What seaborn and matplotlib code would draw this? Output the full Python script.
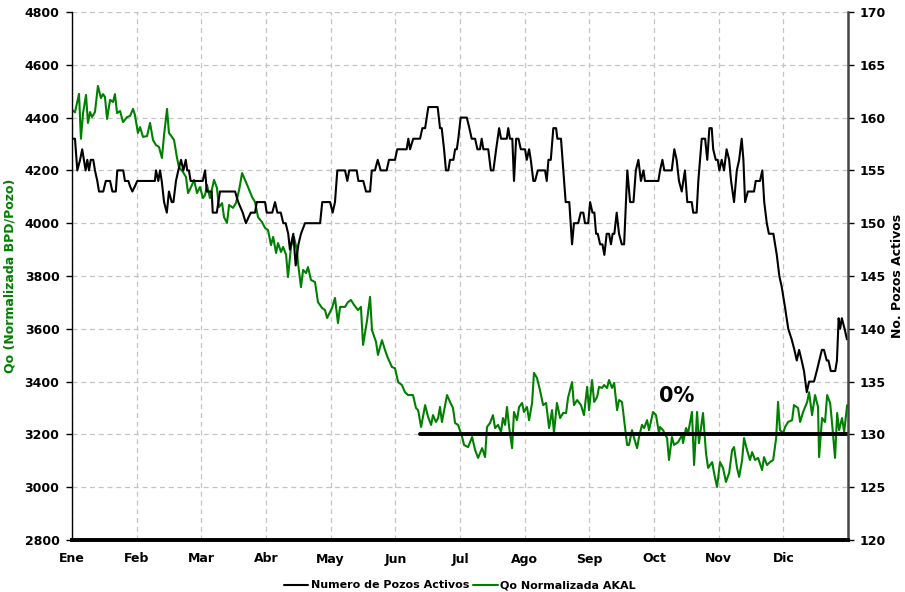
import numpy as np
import pandas as pd
import matplotlib
matplotlib.use("Agg")
import matplotlib.pyplot as plt
import seaborn as sns

months = ["Ene", "Feb", "Mar", "Abr", "May", "Jun", "Jul", "Ago", "Sep", "Oct", "Nov", "Dic"]

green_day = [0, 1.4, 3.3, 4.2, 5.2, 6.6, 7.5, 8.5, 9.4, 10.8, 12.2, 13.6, 14.6, 15.5, 16.5, 17.9, 19.3, 20.2, 21.2, 22.6,
             24.0, 25.9, 27.3, 28.7, 29.6, 31.0, 32.0, 33.4, 35.3, 36.7, 38.1, 39.5, 40.9, 42.3, 43.3, 44.7, 45.6, 47.0, 48.0,
             49.4, 50.3, 52.2, 53.6, 54.6, 56.0, 57.4, 58.8, 60.2, 61.6, 62.6, 63.5, 64.9, 66.8, 68.2, 69.1, 70.6, 71.5, 72.9,
             73.9, 75.7, 77.1, 78.6, 80.0, 81.4, 82.8, 84.7, 86.1, 87.5, 89.4, 90.8,
             92.2, 93.6, 94.6, 96.0, 96.9, 98.3, 99.3, 100.7, 101.6, 103.0, 104.4, 105.8, 106.3, 107.7, 108.7, 110.1, 111.0,
             112.4, 114.3, 115.7, 117.6, 119.0, 120.0, 122.3, 123.7, 125.1, 126.1, 128.4, 129.8, 131.2, 132.7, 134.5, 135.9,
             136.9, 138.8, 140.2, 141.1, 143.0, 143.9, 145.8, 147.2, 148.6, 150.5, 151.9, 153.4, 155.2, 156.6, 158.1, 160.4,
             161.8, 162.8, 164.2, 166.1, 167.5, 168.9, 169.8, 171.2, 172.2, 173.1, 174.0, 176.4, 177.8, 179.2, 180.2, 181.6, 183.5,
             184.4, 186.3, 188.2, 189.6, 191.0, 192.9, 194.3, 195.2, 196.6, 198.0, 199.0, 200.4, 201.8, 202.7, 203.7, 204.6,
             205.6, 207.0, 207.9, 209.3, 210.3, 211.7, 212.6, 214.0, 215.0, 216.4, 217.3, 218.7, 220.1, 221.6, 223.0, 224.4,
             225.8, 226.7, 228.1, 229.6, 231.0, 232.4, 233.3, 235.2, 236.1, 237.6, 239.4, 240.8, 242.3, 243.2, 244.6, 245.6,
             247.0, 247.9, 249.3, 250.3, 251.7, 252.6, 254.0, 255.0, 256.4, 257.3, 258.7, 259.7, 261.1, 262.0, 263.4, 264.4,
             265.8, 266.7, 268.1, 269.1, 270.5, 271.4, 273.3, 274.7, 276.1,
             276.6, 278.0, 279.9, 280.8, 282.2, 283.2, 285.1, 287.0, 287.4, 288.8, 289.8, 291.6, 292.6, 294.0, 294.9, 296.8,
             298.2, 299.2, 301.1, 302.0, 303.4, 304.8, 306.2, 307.6, 309.1, 310.5, 311.4, 312.8, 313.8, 315.2, 316.1, 317.5,
             318.9, 319.9, 321.3, 322.7, 324.6, 325.5, 326.9, 328.3, 329.8, 331.2, 332.1, 333.0, 334.5, 335.4, 336.8, 338.7,
             339.6, 341.5, 342.5, 343.9, 345.8, 346.7, 348.1, 349.5, 350.9, 351.4, 352.8, 354.2, 355.2, 356.6, 357.5, 358.9,
             359.9, 360.8, 362.2, 363.2, 364.6]

green_qo = [4430, 4420, 4490, 4320, 4417, 4486, 4380, 4421, 4402, 4421, 4520, 4474, 4489, 4478, 4395, 4467, 4459, 4489, 4417, 4425,
            4383, 4402, 4406, 4433, 4410, 4342, 4364, 4327, 4330, 4380, 4315, 4296, 4289, 4247, 4334, 4433, 4342, 4327, 4315,
            4247, 4213, 4194, 4175, 4114, 4137, 4164, 4114, 4137, 4095, 4107, 4145, 4095, 4164, 4133, 4061, 4076, 4023, 4001,
            4069, 4058, 4076, 4126, 4190, 4164, 4137, 4099, 4080, 4023, 4004, 3982,
            3974, 3917, 3948, 3887, 3925, 3891, 3910, 3880, 3796, 3910, 3948, 3898, 3849, 3758, 3823, 3811, 3834,
            3785, 3777, 3701, 3679, 3671, 3641, 3679, 3717, 3622, 3683, 3683, 3701, 3709, 3690, 3671, 3683,
            3539, 3633, 3721, 3595, 3550, 3501, 3557, 3520, 3489, 3455, 3451, 3398, 3387, 3360, 3349, 3349,
            3300, 3292, 3228, 3311, 3266, 3236, 3273, 3247, 3262, 3304, 3247, 3349, 3323, 3300, 3243, 3236, 3190,
            3160, 3152, 3190, 3141, 3111, 3148, 3114, 3228, 3243, 3273, 3224, 3236, 3209, 3262, 3236, 3304,
            3228, 3148, 3285, 3254, 3304, 3319, 3285, 3304, 3254, 3319, 3433, 3414, 3368, 3311, 3319, 3224,
            3292, 3205, 3319, 3262, 3281, 3281, 3338, 3398, 3311, 3330, 3311, 3273, 3380, 3292, 3406, 3323,
            3342, 3380, 3376, 3387, 3376, 3406, 3376, 3395, 3292, 3330, 3323, 3254, 3160, 3160, 3216, 3186,
            3148, 3190, 3236, 3224, 3254, 3216, 3285, 3273, 3205,
            3228, 3216, 3186, 3103, 3190, 3160, 3171, 3198, 3167, 3224, 3205, 3285, 3084, 3285, 3167, 3281,
            3130, 3073, 3095, 3054, 3001, 3095, 3073, 3020, 3054, 3141, 3152, 3073, 3039, 3103, 3186, 3141,
            3103, 3133, 3103, 3111, 3065, 3114, 3084, 3095, 3103, 3186, 3323, 3216, 3205, 3228, 3247, 3254,
            3311, 3300, 3247, 3285, 3323, 3360, 3273, 3349, 3304, 3114, 3262, 3247, 3349, 3319, 3243, 3111,
            3281, 3216, 3262, 3209, 3311]

black_day = [0.3, 1.4, 2.5, 3.8, 4.8, 5.6, 6.4, 7.2, 8.0, 8.8, 10.0, 10.8, 11.9, 12.7, 14.7, 15.9, 17.9, 19.0, 20.6, 21.3,
             24.1, 24.9, 26.5, 27.3, 28.4, 29.6, 30.7, 39.0, 39.5, 40.6, 41.4, 42.2, 43.3, 44.6, 45.6, 46.9, 47.7, 48.9,
             50.0, 51.3, 52.4, 53.5, 54.2, 55.0, 55.8, 61.5, 62.6, 63.4, 65.7, 66.2, 68.1, 69.6, 76.7, 78.2, 80.3, 81.8,
             82.9, 84.1, 86.1, 86.9, 90.8, 91.6, 93.1, 94.2, 95.5, 96.6, 98.2, 99.4, 100.5, 101.7, 102.5, 104.1, 105.2,
             106.5, 107.7, 109.6, 116.7, 117.7, 121.4, 122.6, 123.7, 124.8, 128.4, 129.5, 130.4, 133.9, 134.7, 137.0,
             138.3, 140.2, 141.0, 142.5, 143.8, 145.2, 148.0, 149.1, 151.9, 153.0, 157.4, 158.2, 159.0, 160.5, 163.7,
             164.8, 166.1, 167.6, 172.0, 173.1, 173.9, 175.0, 175.9, 177.0, 177.8, 179.4, 180.2, 181.0, 181.7, 182.8,
             184.5, 185.7, 186.9, 188.0, 189.6, 190.7, 191.9, 192.7, 193.5, 195.8, 197.0, 198.2, 199.5, 200.9, 201.8,
             204.5, 205.2, 206.0, 207.1, 207.9, 208.9, 210.0, 211.1, 213.1, 213.9, 215.0, 215.8, 217.0, 217.8, 219.1,
             222.5, 223.3, 224.1, 225.2, 226.4, 227.7, 228.3, 230.0, 231.1, 232.2, 233.9, 235.2, 236.1, 238.1, 239.3,
             240.5, 241.3, 242.8, 243.7, 244.8, 245.7, 246.5, 247.3, 248.4, 249.5, 250.4, 251.5, 252.6, 253.5, 254.3,
             255.1, 256.2, 257.3, 258.6, 259.7, 261.2, 262.5, 264.1, 265.2, 266.4, 267.6, 268.8, 269.5, 275.8, 276.6,
             277.7, 278.6, 282.1, 283.3, 284.4, 285.5, 286.8, 288.3, 289.4, 291.5, 292.2, 293.8, 294.6, 296.2, 297.8,
             298.8, 299.8, 300.9, 301.6, 302.8, 303.7, 304.5, 305.6, 306.7, 307.9, 309.1, 310.0, 311.4, 312.7, 313.8,
             315.0, 315.8, 316.6, 317.9, 320.8, 321.6, 323.6, 324.7, 325.6, 326.8, 327.8, 329.9, 331.5, 332.7, 333.8,
             335.4, 336.9, 338.5, 339.8, 340.9, 342.0, 343.2, 344.3, 345.6, 346.7, 349.0, 350.3, 351.5, 352.7, 353.7,
             355.0, 355.8, 356.9, 359.0, 359.8, 360.6, 361.3, 362.1, 363.4, 364.5]

black_wells = [158, 158, 155, 156, 157, 156, 155, 156, 155, 156, 156, 155, 154, 153, 153, 154, 154, 153, 153, 155,
               155, 154, 154, 153.5, 153, 153.5, 154, 154, 155, 154, 155, 154, 152, 151, 153, 152, 152, 154,
               155, 156, 155, 156, 155, 155, 154, 154, 155, 153, 153, 151, 151, 153, 153, 152, 151, 150,
               150.5, 151, 151, 152, 152, 151, 151, 151, 152, 151, 151, 150, 150, 149, 147.5, 149, 146,
               148, 149, 150, 150, 152, 152, 151, 152, 155, 155, 154, 155, 155, 154, 154,
               153, 153, 155, 155, 156, 155, 155, 156, 156, 157, 157, 158, 157, 158, 158,
               159, 159, 161, 161, 159, 159, 157, 155, 155, 156, 156, 157, 157, 158, 160,
               160, 160, 159, 158, 158, 157, 157, 158, 157, 157, 155, 155, 157, 159, 158,
               158, 159, 158, 158, 154, 158, 158, 157, 157, 156, 157, 156, 154, 154, 155,
               155, 154, 156, 156, 159, 159, 158, 158, 155, 152, 152, 148, 150, 150, 151,
               151, 150, 150, 152, 151, 151, 149, 149, 148, 148, 147, 149, 149, 148, 149,
               149, 151, 149, 148, 148, 155, 152, 152, 155, 156, 154, 155, 154, 154, 155,
               156, 155, 155, 157, 156, 154, 153, 155, 152, 152, 151, 151, 154, 158, 158,
               156, 159, 159, 157, 156, 156, 155, 156, 155, 157, 156, 154, 152, 155, 156,
               158, 156, 152, 153, 153, 154, 154, 155, 152, 150, 149, 149, 147, 145, 144,
               142, 140, 139, 138, 137, 138, 137, 136, 134, 135, 135, 136, 137, 138, 138,
               137, 137, 136, 136, 137, 141, 140, 141, 140, 139]

ref_day = [163.7, 365]
ref_qo = [3200, 3200]
pct_label = "0%"
pct_day = 276
pct_qo = 3322

legend_labels = ["Numero de Pozos Activos", "Qo Normalizada AKAL"]

sns.set_style("white")
plt.rcParams["font.family"] = ["DejaVu Sans"]
plt.rcParams["font.weight"] = "bold"
plt.rcParams["text.color"] = "black"
plt.rcParams["axes.labelcolor"] = "black"
plt.rcParams["xtick.color"] = "black"
plt.rcParams["ytick.color"] = "black"

df_g = pd.DataFrame({"day": green_day, "qo": green_qo})
df_b = pd.DataFrame({"day": black_day, "wells": black_wells})
df_r = pd.DataFrame({"day": ref_day, "qo": ref_qo})

W, H = 905, 592
fig = plt.figure(figsize=(W / 100, H / 100), dpi=100)
ax = fig.add_axes([72 / W, 1 - 540 / H, (848 - 72) / W, 528 / H])
ax2 = ax.twinx()

green = "#008000"
sns.lineplot(data=df_g, x="day", y="qo", ax=ax, color=green, lw=1.5, estimator=None, sort=False)
sns.lineplot(data=df_r, x="day", y="qo", ax=ax, color="black", lw=2.8, estimator=None)
sns.lineplot(data=df_b, x="day", y="wells", ax=ax2, color="black", lw=1.5, estimator=None, sort=False)

ax.set_xlim(0, 365)
ax.set_ylim(2800, 4800)
ax2.set_ylim(120, 170)
ax.set_yticks(np.arange(2800, 4801, 200))
ax2.set_yticks(np.arange(120, 171, 5))
ax.set_xticks(np.arange(12) * 365 / 12)
ax.set_xticklabels(months)

ax.grid(True, color="#c4c4c4", linestyle=(0, (4, 3)), lw=0.9)
ax.set_axisbelow(True)

for a in (ax, ax2):
    a.spines["top"].set_visible(False)
    a.spines["bottom"].set_linewidth(2.6)
    a.spines["bottom"].set_color("black")
ax.spines["left"].set_color("black")
ax.spines["left"].set_linewidth(1.0)
ax2.spines["left"].set_visible(False)
ax2.spines["right"].set_color("#444444")
ax2.spines["right"].set_linewidth(1.8)
ax.spines["right"].set_visible(False)

ax.tick_params(axis="x", length=0, pad=9, labelsize=9)
ax.tick_params(axis="y", direction="out", length=4, width=1, pad=5, labelsize=9, left=True)
ax2.tick_params(axis="y", direction="out", length=4, width=1, pad=4, labelsize=9, right=True)

ax.set_xlabel("")
ax.set_ylabel("Qo (Normalizada BPD/Pozo)", color=green, fontsize=9, fontweight="bold")
ax.yaxis.set_label_coords(-0.071, 0.5)
ax2.set_ylabel("No. Pozos Activos", color="black", fontsize=9, fontweight="bold")
ax2.yaxis.set_label_coords(1.056, 0.5)

ax.text(pct_day, pct_qo, pct_label, fontsize=15, fontweight="bold", ha="left", va="baseline",
        color="black", family=["DejaVu Sans"])

h_black = ax2.get_lines()[0]
h_green = ax.get_lines()[0]
fig.legend([h_black, h_green], legend_labels, loc="center", bbox_to_anchor=(0.508, 0.011), ncol=2,
           frameon=False, fontsize=8, handlelength=2.2, handletextpad=0.2, columnspacing=0.4)

fig.savefig("out.png", dpi=100)
